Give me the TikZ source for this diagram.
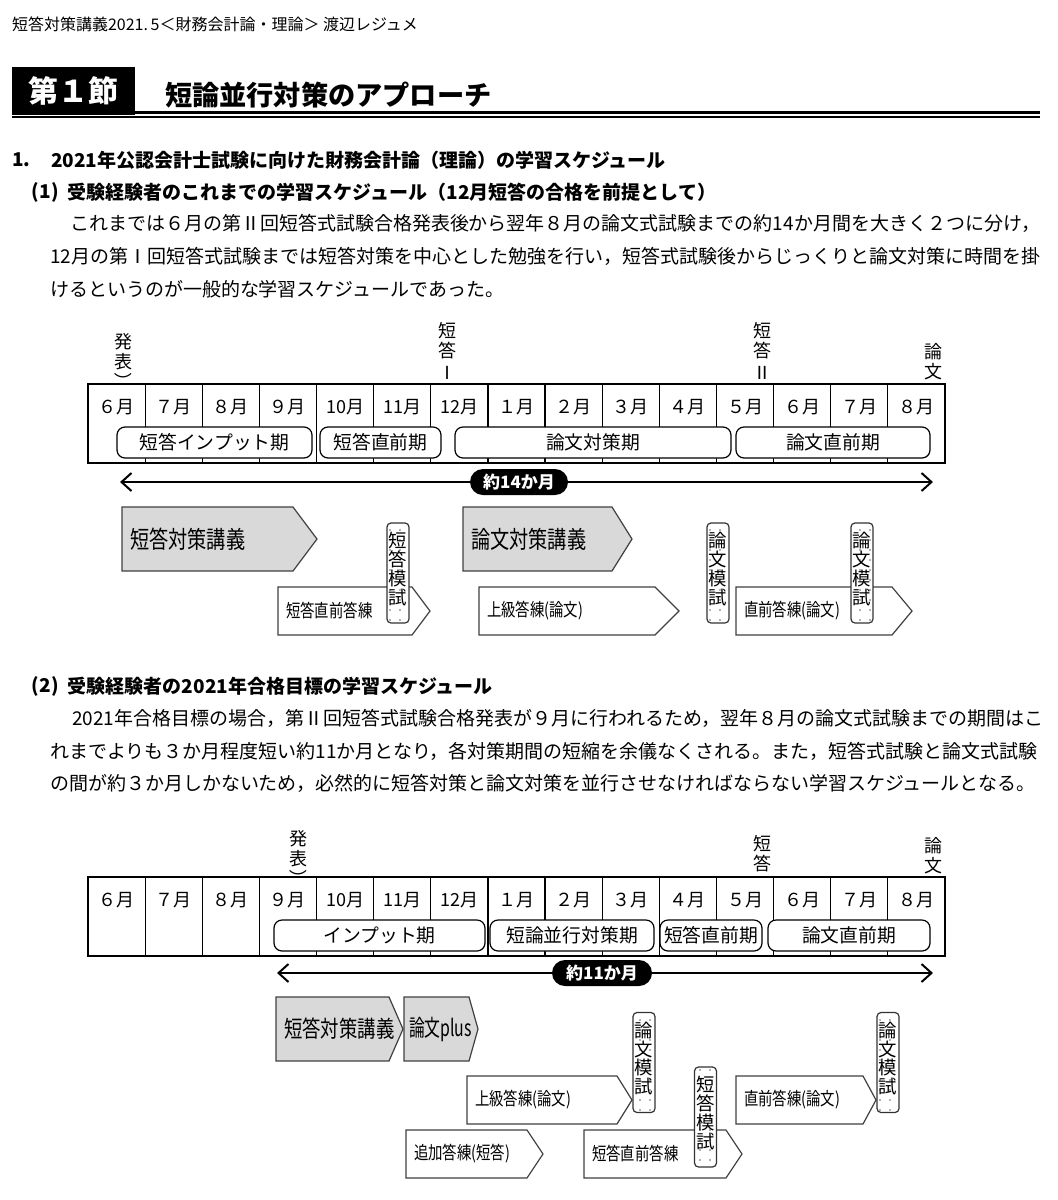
\documentclass[tikz,border=0pt]{standalone}
\usepackage{fontspec}
\usepackage{graphicx}
\setmainfont{Noto Sans CJK JP}
\newfontfamily\jpn[FakeStretch=0.8]{Noto Sans CJK JP}
\usetikzlibrary{arrows.meta,patterns.meta}

\pgfdeclarepattern{name=sparsedots, type=uncolored,
  bottom left={\pgfpoint{-0.5pt}{-0.5pt}}, top right={\pgfpoint{4.5pt}{4.5pt}},
  tile size={\pgfpoint{5pt}{5pt}},
  code={\pgfpathcircle{\pgfpoint{0pt}{0pt}}{0.45pt}\pgfusepath{fill}}}

% name, shape style, text style, x1, y1, x2, xtip, y2, text
\newcommand\pentarrow[9]{%
  \draw[#2] (#4,#5) -- (#6,#5) -- (#7,{(#5+#8)/2}) -- (#6,#8) -- (#4,#8) -- cycle;
  \node[#3, anchor=west] (#1) at ({#4+8},{(#5+#8)/2}) {#9};}
\newcommand\vparen{\rotatebox[origin=c]{-90}{）}}

\begin{document}
\begin{tikzpicture}[x=0.5pt,y=-0.5pt,
  every node/.style={inner sep=0pt, outer sep=0pt},
  hdr/.style={font=\fontsize{8}{9}\selectfont, anchor=west},
  body/.style={font=\fontsize{9.5}{11}\selectfont, anchor=west},
  sec/.style={font=\bfseries\fontsize{9.5}{11}\selectfont, anchor=west},
  month/.style={font=\fontsize{9}{10}\selectfont},
  frame/.style={draw, line width=0.75pt},
  divider/.style={draw, line width=0.6pt},
  period/.style={draw, line width=0.6pt, rounded corners=4pt, fill=white, minimum height=15.5pt, font=\fontsize{9.4}{10}\selectfont},
  vlabel/.style={font=\fontsize{9}{10}\selectfont, align=center, anchor=north},
  span/.style={{Straight Barb[length=5pt,width=9pt]}-{Straight Barb[length=5pt,width=9pt]}, line width=1pt},
  pill/.style={fill=black, text=white, font=\bfseries\fontsize{8.5}{9}\selectfont, rounded corners=6.5pt, minimum height=13pt},
  bigpent/.style={draw=black!75, fill=black!15, line width=0.6pt},
  smallpent/.style={draw=black!75, fill=white, line width=0.6pt},
  bigtxt/.style={font=\jpn\fontsize{12}{13}\selectfont},
  bigtxtb/.style={font=\jpn\fontsize{11.5}{13}\selectfont},
  smalltxt/.style={font=\jpn\fontsize{9}{10}\selectfont},
  mockbox/.style={draw=black!80, line width=0.6pt, rounded corners=2pt, fill=white,
     postaction={pattern=sparsedots, pattern color=black!60}, minimum width=11pt, minimum height=50pt},
  mocktxt/.style={font=\fontsize{9.2}{9.4}\selectfont, align=center}
]
\useasboundingbox (0,0) rectangle (1057,1200);

% ---------- header ----------
\node[hdr] (h0) at (12,24) {短答対策講義2021.\,5＜財務会計論・理論＞ 渡辺レジュメ};
\node[fill=black, text=white, font=\bfseries\fontsize{15}{16}\selectfont,
      minimum width=61.5pt, minimum height=24pt] (t1) at (73.5,91) {第１節};
\node[anchor=west, font=\bfseries\fontsize{13.6}{15}\selectfont] (t2) at (165,95) {短論並行対策のアプローチ};
\draw[line width=1.5pt] (t1.east |- 0,112.5) -- (1040,112.5);
\draw[line width=0.6pt] (12,117) -- (1040,117);

% ---------- section 1 ----------
\node[sec] (s1n) at (12,160) {1.};
\node[sec] (s1) at (51,160) {2021年公認会計士試験に向けた財務会計論（理論）の学習スケジュール};
\node[sec] (s11n) at (32,192) {(1)};
\node[sec] (s11) at (68,192) {受験経験者のこれまでの学習スケジュール（12月短答の合格を前提として）};
\node[body] (b11) at (70,223) {これまでは６月の第Ⅱ回短答式試験合格発表後から翌年８月の論文式試験までの約14か月間を大きく２つに分け，};
\node[body] (b12) at (50,256) {12月の第Ⅰ回短答式試験までは短答対策を中心とした勉強を行い，短答式試験後からじっくりと論文対策に時間を掛};
\node[body] (b13) at (50,289) {けるというのが一般的な学習スケジュールであった。};

% ---------- timeline 1 ----------
\draw[frame] (88,384) rectangle (945,463);
\foreach \i in {1,...,14} \draw[divider] ({88+57.133*\i},384) -- ({88+57.133*\i},463);
\foreach \m [count=\i from 0] in {６月,７月,８月,９月,10月,11月,12月,１月,２月,３月,４月,５月,６月,７月,８月}
  \node[month] (ma\i) at ({88+57.133*(\i+0.5)},407) {\m};
\node[period, minimum width=97.5pt] (pa1) at (214.5,442.5) {短答インプット期};
\node[period, minimum width=60.5pt] (pa2) at (380.5,442.5) {短答直前期};
\node[period, minimum width=138pt] (pa3) at (593,442.5) {論文対策期};
\node[period, minimum width=97pt] (pa4) at (833,442.5) {論文直前期};

\node[vlabel] (va1) at (123,333) {発\\表\\\vparen};
\node[vlabel] (va2) at (447,322) {短\\答\\[1pt]Ⅰ};
\node[vlabel] (va3) at (762,322) {短\\答\\[1pt]Ⅱ};
\node[vlabel] (va4) at (933,343) {論\\文};

\coordinate (a1l) at (120,482);
\coordinate (a1r) at (933,482);
\draw[span] (a1l) -- (a1r);
\node[pill, minimum width=49pt] (pl1) at (519,482) {約14か月};

% ---------- arrows 1 ----------
\pentarrow{r1a}{bigpent}{bigtxt}{122}{507}{293}{317}{571}{短答対策講義}
\pentarrow{r1b}{smallpent}{smalltxt}{278}{587}{412}{430}{635}{短答直前答練}
\pentarrow{r1c}{bigpent}{bigtxt}{463}{507}{612}{632}{571}{論文対策講義}
\pentarrow{r1d}{smallpent}{smalltxt}{479}{587}{655}{679}{635}{上級答練(論文)}
\pentarrow{r1e}{smallpent}{smalltxt}{736}{587}{892}{912}{635}{直前答練(論文)}

\node[mockbox] (mA) at (398,573) {};
\node[mocktxt] (mAt) at ([yshift=2pt]mA.center) {短\\答\\模\\試};
\node[mockbox] (mB) at (718,573) {};
\node[mocktxt] (mBt) at ([yshift=2pt]mB.center) {論\\文\\模\\試};
\node[mockbox] (mC) at (862,573) {};
\node[mocktxt] (mCt) at ([yshift=2pt]mC.center) {論\\文\\模\\試};

% ---------- section 2 ----------
\node[sec] (s12n) at (32,686) {(2)};
\node[sec] (s12) at (68,686) {受験経験者の2021年合格目標の学習スケジュール};
\node[body] (b21) at (72,718) {2021年合格目標の場合，第Ⅱ回短答式試験合格発表が９月に行われるため，翌年８月の論文式試験までの期間はこ};
\node[body] (b22) at (50,751) {れまでよりも３か月程度短い約11か月となり，各対策期間の短縮を余儀なくされる。また，短答式試験と論文式試験};
\node[body] (b23) at (50,783) {の間が約３か月しかないため，必然的に短答対策と論文対策を並行させなければならない学習スケジュールとなる。};

% ---------- timeline 2 ----------
\draw[frame] (88,877) rectangle (945,956);
\foreach \i in {1,...,14} \draw[divider] ({88+57.133*\i},877) -- ({88+57.133*\i},956);
\foreach \m [count=\i from 0] in {６月,７月,８月,９月,10月,11月,12月,１月,２月,３月,４月,５月,６月,７月,８月}
  \node[month] (mb\i) at ({88+57.133*(\i+0.5)},900) {\m};
\node[period, minimum width=105.5pt] (pb1) at (379.5,935.5) {インプット期};
\node[period, minimum width=82pt] (pb2) at (572,935.5) {短論並行対策期};
\node[period, minimum width=51pt] (pb3) at (711,935.5) {短答直前期};
\node[period, minimum width=81pt] (pb4) at (849,935.5) {論文直前期};

\node[vlabel] (vb1) at (298,830) {発\\表\\\vparen};
\node[vlabel] (vb2) at (762,835) {短\\答};
\node[vlabel] (vb3) at (933,837) {論\\文};

\coordinate (a2l) at (277,973);
\coordinate (a2r) at (933,973);
\draw[span] (a2l) -- (a2r);
\node[pill, minimum width=50pt] (pl2) at (602,973) {約11か月};

% ---------- arrows 2 ----------
\pentarrow{r2a}{bigpent}{bigtxtb}{276}{997}{389}{403}{1061}{短答対策講義}
\draw[bigpent] (404,997) -- (469,997) -- (478,1029) -- (469,1061) -- (404,1061) -- cycle;
\node[anchor=west, font=\fontsize{11.5}{13}\selectfont] (r2b) at (409,1029) {\resizebox{31.5pt}{\height}{論文plus}};
\pentarrow{r2c}{smallpent}{smalltxt}{467}{1076}{617}{632}{1124}{上級答練(論文)}
\pentarrow{r2d}{smallpent}{smalltxt}{406}{1130}{527}{543}{1178}{追加答練(短答)}
\pentarrow{r2e}{smallpent}{smalltxt}{584}{1130}{726}{742}{1178}{短答直前答練}
\pentarrow{r2f}{smallpent}{smalltxt}{736}{1076}{863}{876}{1124}{直前答練(論文)}

\node[mockbox] (mD) at (644,1062.5) {};
\node[mocktxt] (mDt) at ([yshift=2pt]mD.center) {論\\文\\模\\試};
\node[mockbox] (mE) at (705.5,1117) {};
\node[mocktxt] (mEt) at ([yshift=2pt]mE.center) {短\\答\\模\\試};
\node[mockbox] (mF) at (888,1062.5) {};
\node[mocktxt] (mFt) at ([yshift=2pt]mF.center) {論\\文\\模\\試};
\end{tikzpicture}
\end{document}
